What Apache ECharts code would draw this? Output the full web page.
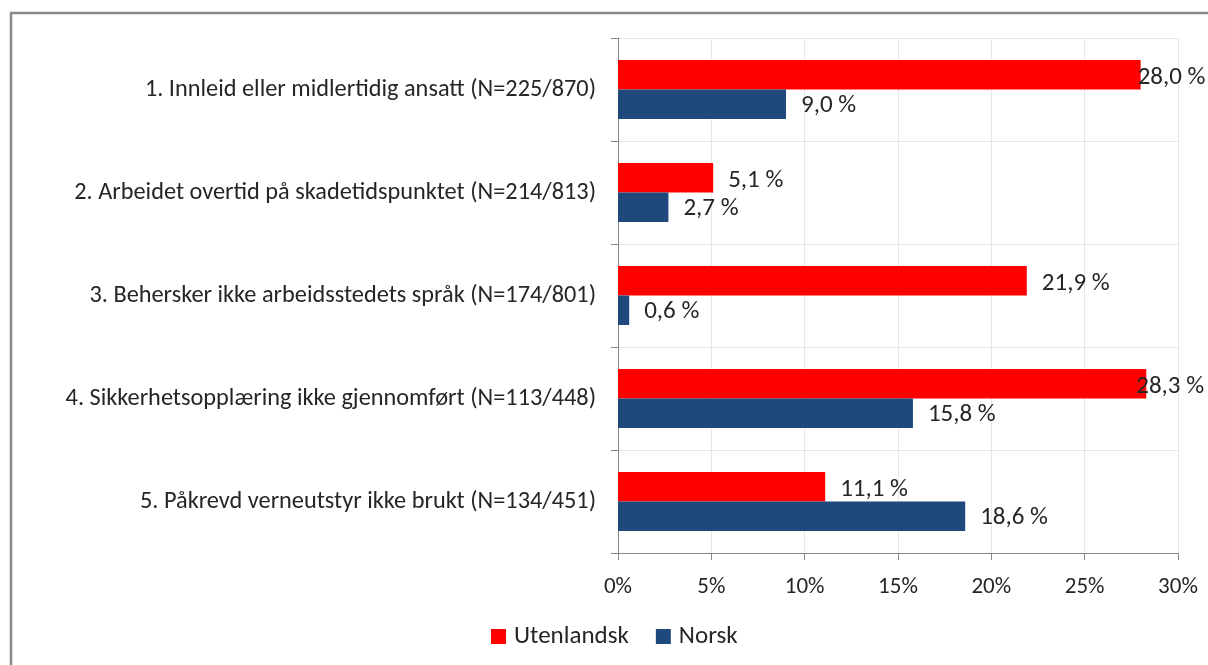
<!DOCTYPE html>
<html>
<head>
<meta charset="utf-8">
<script src="https://cdn.jsdelivr.net/npm/echarts@6/dist/echarts.min.js"></script>
<style>
html,body{margin:0;padding:0;background:#fff;}
#c{width:1208px;height:665px;}
</style>
</head>
<body>
<div id="c"></div>
<script>
const categories = [
  '1. Innleid eller midlertidig ansatt (N=225/870)',
  '2. Arbeidet overtid på skadetidspunktet (N=214/813)',
  '3. Behersker ikke arbeidsstedets språk (N=174/801)',
  '4. Sikkerhetsopplæring ikke gjennomført (N=113/448)',
  '5. Påkrevd verneutstyr ikke brukt (N=134/451)'
];
const utenlandsk = [28.0, 5.1, 21.9, 28.3, 11.1];
const norsk = [9.0, 2.7, 0.6, 15.8, 18.6];
const xTicks = [0, 5, 10, 15, 20, 25, 30];

const FONT = 'Carlito, Lato, sans-serif';
const TXT = '#262626';
const fmt = v => v.toFixed(1).replace('.', ',') + ' %';

function toData(arr) {
  return arr.map(v => {
    const d = { value: v };
    if (v > 27) d.label = { distance: v > 28.1 ? -10 : -3 };
    return d;
  });
}

const chart = echarts.init(document.getElementById('c'), null, { renderer: 'canvas' });
chart.setOption({
  animation: false,
  backgroundColor: '#fff',
  graphic: [{
    type: 'rect',
    shape: { x: 11, y: 13, width: 1400, height: 900 },
    style: { fill: 'none', stroke: '#8a8a8a', lineWidth: 2.5 },
    silent: true
  }],
  grid: { left: 618, right: 30, top: 38, bottom: 112, containLabel: false },
  legend: {
    data: ['Utenlandsk', 'Norsk'],
    top: 619,
    left: 486,
    itemWidth: 15,
    itemHeight: 15,
    itemGap: 27,
    icon: 'rect',
    textStyle: { fontFamily: FONT, fontSize: 25, color: TXT, padding: [0, 0, 0, 3] }
  },
  xAxis: {
    type: 'value',
    min: xTicks[0],
    max: xTicks[xTicks.length - 1],
    interval: 5,
    axisLine: { show: true, lineStyle: { color: '#868686', width: 1 } },
    axisTick: { show: true, length: 7, lineStyle: { color: '#868686' } },
    splitLine: { show: true, lineStyle: { color: '#e6e6e6' } },
    axisLabel: { formatter: v => v + '%', fontFamily: FONT, fontSize: 23, color: TXT, margin: 23 }
  },
  yAxis: {
    type: 'category',
    data: categories,
    inverse: true,
    axisLine: { show: true, lineStyle: { color: '#868686', width: 1 } },
    axisTick: { show: true, length: 7, lineStyle: { color: '#868686' } },
    splitLine: { show: true, lineStyle: { color: '#e6e6e6' } },
    axisLabel: { fontFamily: FONT, fontSize: 24.3, color: TXT, margin: 22 }
  },
  series: [
    {
      name: 'Utenlandsk',
      type: 'bar',
      data: toData(utenlandsk),
      barWidth: 29.5,
      barGap: '0%',
      itemStyle: { color: '#ff0000' },
      label: { show: true, position: 'right', distance: 15, formatter: p => fmt(p.value), fontFamily: FONT, fontSize: 25, color: TXT, offset: [0, 3] }
    },
    {
      name: 'Norsk',
      type: 'bar',
      data: toData(norsk),
      barWidth: 29.5,
      barGap: '0%',
      itemStyle: { color: '#1f497d' },
      label: { show: true, position: 'right', distance: 15, formatter: p => fmt(p.value), fontFamily: FONT, fontSize: 25, color: TXT, offset: [0, 1] }
    }
  ]
});
</script>
</body>
</html>
